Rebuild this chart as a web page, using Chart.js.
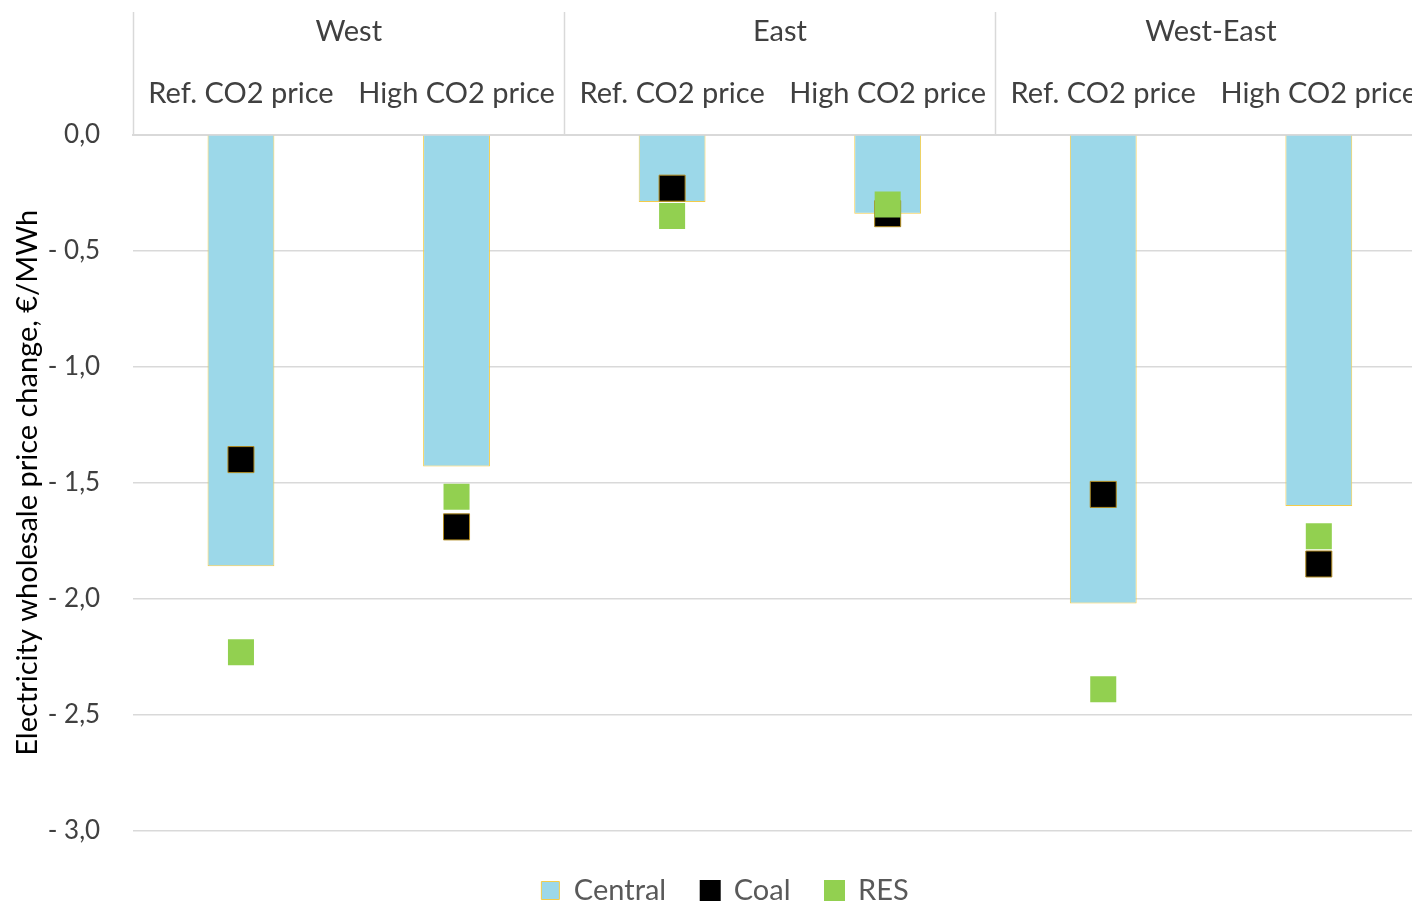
<!DOCTYPE html>
<html>
<head>
<meta charset="utf-8">
<script src="https://cdn.jsdelivr.net/npm/chart.js@4"></script>
<style>
  html, body { margin: 0; padding: 0; background: #fff; overflow: hidden; }
  canvas { display: block; }
</style>
</head>
<body>
<canvas id="c" width="1446" height="904" style="width:1446px;height:904px"></canvas>
<script>
const groups = ['West', 'East', 'West-East'];
const categories = ['Ref. CO2 price', 'High CO2 price', 'Ref. CO2 price', 'High CO2 price', 'Ref. CO2 price', 'High CO2 price'];
const centralValues = [-1.86, -1.43, -0.29, -0.34, -2.02, -1.60];
const coalValues = [-1.40, -1.69, -0.23, -0.34, -1.55, -1.85];
const resValues = [-2.23, -1.56, -0.35, -0.30, -2.39, -1.73];
const yTicks = [0, -0.5, -1.0, -1.5, -2.0, -2.5, -3.0];

const FONT = 'Lato, "Open Sans", sans-serif';

const separators = {
  id: 'separators',
  afterDraw(chart) {
    const x2 = chart.scales.x2;
    const ctx = chart.ctx;
    const n = groups.length;
    const w = (x2.right - x2.left) / n;
    ctx.save();
    ctx.strokeStyle = '#d9d9d9';
    ctx.lineWidth = 1.5;
    for (let i = 0; i <= n; i++) {
      const x = Math.round(x2.left + i * w) + 0.5;
      ctx.beginPath();
      ctx.moveTo(x, x2.top);
      ctx.lineTo(x, chart.chartArea.top);
      ctx.stroke();
    }
    ctx.restore();
  }
};

function fmt(v) {
  const a = Math.abs(v).toFixed(1).replace('.', ',');
  return v < -1e-9 ? '- ' + a : a;
}

new Chart(document.getElementById('c'), {
  type: 'bar',
  data: {
    labels: categories,
    datasets: [
      {
        label: 'Central',
        data: centralValues,
        backgroundColor: '#9cd8e9',
        borderColor: '#f3cc4a',
        borderWidth: 1,
        barPercentage: 0.31,
        categoryPercentage: 1,
        order: 2
      },
      {
        label: 'Coal',
        type: 'line',
        data: coalValues,
        showLine: false,
        pointStyle: 'rect',
        pointRadius: 18.4,
        pointHoverRadius: 18.4,
        backgroundColor: '#000000',
        borderColor: '#000000',
        pointBorderColor: '#b08a20',
        pointBorderWidth: 1,
        order: 1
      },
      {
        label: 'RES',
        type: 'line',
        data: resValues,
        showLine: false,
        pointStyle: 'rect',
        pointRadius: 18.4,
        pointHoverRadius: 18.4,
        backgroundColor: '#92d050',
        borderColor: '#92d050',
        pointBorderWidth: 0,
        order: 0
      }
    ]
  },
  options: {
    responsive: false,
    animation: false,
    layout: { padding: { top: 12, right: 6, bottom: -11, left: 10 } },
    plugins: {
      tooltip: { enabled: false },
      legend: {
        position: 'bottom',
        title: { display: true, text: '', font: { size: 1 }, padding: { top: 9, bottom: 0 } },
        labels: {
          font: { family: FONT, size: 29 },
          color: '#595959',
          boxWidth: 18,
          boxHeight: 18,
          padding: 35,
          sort: (a, b) => a.datasetIndex - b.datasetIndex
        }
      }
    },
    scales: {
      x: {
        type: 'category',
        position: 'top',
        weight: 0,
        offset: true,
        grid: { display: false, offset: true, drawTicks: false },
        border: { display: true, color: '#d9d9d9', width: 2 },
        ticks: {
          font: { family: FONT, size: 29 },
          color: '#404040',
          maxRotation: 0,
          autoSkip: false,
          padding: 24
        }
      },
      x2: {
        type: 'category',
        position: 'top',
        weight: 1,
        labels: groups,
        offset: true,
        grid: { display: false, drawTicks: false },
        border: { display: false },
        ticks: {
          font: { family: FONT, size: 29 },
          color: '#404040',
          maxRotation: 0,
          autoSkip: false,
          padding: 2.6
        }
      },
      y: {
        min: -3,
        max: 0,
        afterBuildTicks: (axis) => { axis.ticks = yTicks.map(v => ({ value: v })); },
        grid: { color: '#d9d9d9', lineWidth: 1.5, drawTicks: false },
        border: { display: false },
        ticks: {
          font: { family: FONT, size: 26 },
          color: '#404040',
          padding: 33,
          callback: (v) => fmt(v)
        },
        title: {
          display: true,
          text: 'Electricity wholesale price change, €/MWh',
          font: { family: FONT, size: 29 },
          color: '#000000',
          padding: { top: 0, bottom: -30 }
        }
      }
    }
  },
  plugins: [separators]
});
</script>
</body>
</html>
